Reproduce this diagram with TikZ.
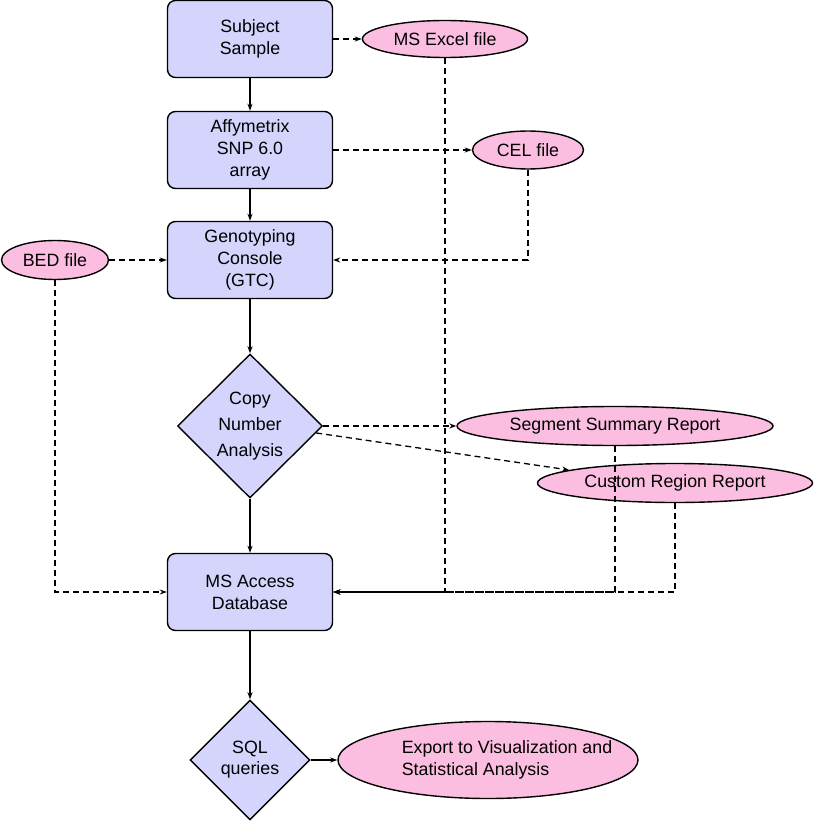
\documentclass[tikz,border=0pt]{standalone}
\usepackage{fontspec}
\setmainfont{Liberation Sans}
\usetikzlibrary{shapes.geometric,arrows.meta}
\definecolor{boxblue}{RGB}{212,212,252}
\definecolor{filepink}{RGB}{252,190,224}
\begin{document}
\begin{tikzpicture}[x=1pt,y=-1pt,
  every node/.style={font=\fontsize{17.8}{22}\selectfont},
  stepbox/.style={draw,line width=1.4pt,fill=boxblue,rounded corners=8pt,minimum width=165pt,minimum height=77pt,align=center,inner sep=0pt},
  filebox/.style={draw,line width=1.4pt,fill=filepink,ellipse,inner sep=0pt,align=center},
  decide/.style={draw,line width=1.4pt,fill=boxblue,diamond,inner sep=0pt,align=center},
  flow/.style={line width=1.3pt,-{Stealth[length=7pt,width=5pt]}},
  dflow/.style={line width=1.3pt,dash pattern=on 6pt off 4pt,-{Stealth[length=7pt,width=5pt]}}
]
\useasboundingbox (0,0) rectangle (815,821);
\node[stepbox] (subj) at (250,39) {Subject\\Sample};
\node[filebox,minimum width=165pt,minimum height=37pt] (excel) at (445,39) {MS Excel file};
\node[stepbox] (affy) at (250,150) {Affymetrix\\SNP 6.0\\array};
\node[filebox,minimum width=111pt,minimum height=38pt] (cel) at (528,150) {CEL file};
\node[stepbox] (geno) at (250,260) {Genotyping\\Console\\(GTC)};
\node[filebox,minimum width=107pt,minimum height=39pt] (bed) at (55,260) {BED file};
\node[decide,minimum width=145pt,minimum height=144pt,font=\fontsize{17.8}{26}\selectfont] (cna) at (250,426) {Copy\\Number\\Analysis};
\node[filebox,minimum width=316pt,minimum height=39pt] (seg) at (615,426) {Segment Summary Report};
\node[filebox,minimum width=275pt,minimum height=39pt] (cust) at (675,483) {Custom Region Report};
\node[stepbox] (access) at (250,592) {MS Access\\Database};
\node[decide,minimum width=120pt,minimum height=120pt,font=\fontsize{17.8}{21}\selectfont] (sql) at (250,760) {SQL\\queries};
\node[filebox,minimum width=300pt,minimum height=77pt,
  label={[align=left,xshift=19pt,font=\fontsize{17.8}{22}\selectfont]center:Export to Visualization and\\Statistical Analysis}] (exp) at (488,760) {};

\draw[flow] (subj) -- (affy);
\draw[dflow] (subj) -- (excel);
\draw[dflow] (affy) -- (cel);
\draw[flow] (affy) -- (geno);
\draw[dflow] (cel.south) |- (geno.east);
\draw[dflow] (bed) -- (geno);
\draw[flow] (geno) -- (cna);
\draw[dflow] (cna) -- (seg);
\draw[dflow] (cna.-6) -- (cust.173);
\draw[flow] (cna) -- (access);
\draw[dflow] (bed.south) |- (access.west);
\draw[dflow] (excel.south) |- (access.east);
\draw[dflow] (seg.south) |- (access.east);
\draw[dflow] (cust.south) |- (access.east);
\draw[flow] (access) -- (sql);
\draw[flow] (sql) -- (exp);
\end{tikzpicture}
\end{document}
